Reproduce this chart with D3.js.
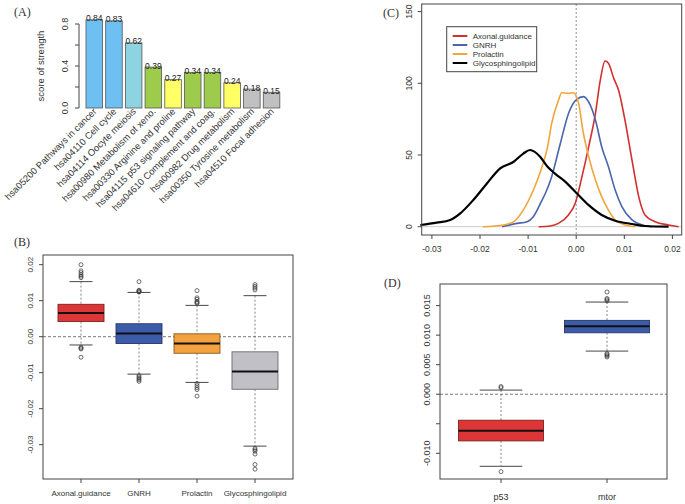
<!DOCTYPE html>
<html><head><meta charset="utf-8">
<script src="https://cdn.jsdelivr.net/npm/d3@7"></script>
<style>body{margin:0;background:#fff}svg{display:block}text{font-family:"Liberation Sans",Arial,sans-serif}</style>
</head><body><svg id="c" width="685" height="504"></svg>
<script>
// ---------- DATA ----------
const pathways = ["hsa05200 Pathways in cancer","hsa04110 Cell cycle","hsa04114 Oocyte meiosis","hsa00980 Metabolism of xeno.","hsa00330 Arginine and proline","hsa04115 p53 signaling pathway","hsa04610 Complement and coag.","hsa00982 Drug metabolism","hsa00350 Tyrosine metabolism","hsa04510 Focal adhesion"];
const strength = [0.84,0.83,0.62,0.39,0.27,0.34,0.34,0.24,0.18,0.15];
const strengthLabels = ["0.84","0.83","0.62","0.39","0.27","0.34","0.34","0.24","0.18","0.15"];
const barColors = ["#6ec0f2","#6ec0f2","#8ed3e0","#9dcb4c","#ffff66","#9dcb4c","#9dcb4c","#ffff66","#c0c0c2","#c0c0c2"];
const strengthTicks = [0,0.2,0.4,0.6,0.8];
const strengthTickLabels = ["0.0","","0.4","","0.8"];

const groupsB = ["Axonal.guidance","GNRH","Prolactin","Glycosphingolipid"];
// [lowerWhisker, Q1, median, Q3, upperWhisker]
const statsB = [
  [-0.0023,0.0042,0.0066,0.0090,0.0153],
  [-0.0104,-0.0019,0.0009,0.0036,0.0123],
  [-0.0127,-0.0046,-0.0019,0.0008,0.0087],
  [-0.0304,-0.0146,-0.0097,-0.0042,0.0114]
];
const outliersB = [
  [0.0200,0.0183,0.0178,0.0172,0.0168,0.0164,-0.0029,-0.0032,-0.0034,-0.0057],
  [0.0153,0.0129,0.0127,0.0125,0.0124,-0.0108,-0.0112,-0.0116,-0.0120,-0.0124],
  [0.0128,0.0108,0.0104,0.0098,0.0095,0.0093,-0.0130,-0.0136,-0.0142,-0.0147,-0.0165],
  [0.0145,0.0140,0.0135,0.0130,-0.0310,-0.0314,-0.0318,-0.0326,-0.0355,-0.0368]
];
const boxColorsB = ["#de3636","#3c5ba8","#f3a23f","#c0c0c6"];
const boxBordersB = ["#7a2222","#25386a","#8a5a1e","#6a6a70"];
const ticksB = [0.02,0.01,0.00,-0.01,-0.02,-0.03];
const tickLabelsB = ["0.02","0.01","0.00","-0.01","-0.02","-0.03"];

const seriesC = ["Axonal.guidance","GNRH","Prolactin","Glycosphingolipid"];
const colorsC = ["#d32f2f","#4a64ad","#f0a63a","#000000"];
const densAxonal = [[-0.0078,0],[-0.0054,0.5],[-0.0037,2.3],[-0.0016,8.2],[-0.0002,16.3],[0.0012,34.9],[0.0026,55.8],[0.0040,79],[0.0050,102],[0.0060,115.5],[0.0067,114],[0.0078,103.5],[0.0088,95.3],[0.0100,76.7],[0.0116,46.5],[0.0130,21],[0.0143,8.2],[0.0164,3.5],[0.0192,1.2],[0.0213,0]];
const densGNRH = [[-0.0154,0],[-0.0123,2.3],[-0.0102,3.5],[-0.0089,7],[-0.0071,18.6],[-0.0064,23.3],[-0.0051,34.9],[-0.0033,58],[-0.0016,79],[0.0001,88.8],[0.0015,90.7],[0.0029,84.9],[0.0040,74.4],[0.0053,55.8],[0.0067,41.8],[0.0081,25.6],[0.0095,14],[0.0116,4.7],[0.0137,1.2],[0.0157,0]];
const densProlactin = [[-0.0194,0],[-0.0151,1.2],[-0.0130,3.5],[-0.0110,11.6],[-0.0089,25.6],[-0.0071,41.8],[-0.0060,55],[-0.0051,72],[-0.0037,88],[-0.0030,93.4],[-0.0016,93],[-0.0006,93.4],[0.0005,86],[0.0015,65],[0.0026,48.8],[0.0040,32.6],[0.0053,21],[0.0067,11.6],[0.0081,4.7],[0.0102,1.2],[0.0123,0]];
const densGlyco = [[-0.0324,1.2],[-0.0290,2.8],[-0.0262,4.7],[-0.0241,9.3],[-0.0214,18.6],[-0.0186,30],[-0.0158,40.7],[-0.0130,45.3],[-0.0110,51],[-0.0096,53.5],[-0.0075,48.8],[-0.0060,42],[-0.0044,37],[-0.0023,31.4],[0.0001,23.3],[0.0026,15],[0.0053,8.2],[0.0081,4.2],[0.0116,1.9],[0.0143,0.5],[0.0192,0]];
const xTicksC = [-0.03,-0.02,-0.01,0.00,0.01,0.02];
const xTickLabelsC = ["-0.03","-0.02","-0.01","0.00","0.01","0.02"];
const yTicksC = [0,50,100,150];

const groupsD = ["p53","mtor"];
const statsD = [
  [-0.0122,-0.0079,-0.0062,-0.0044,0.0007],
  [0.0073,0.0104,0.0115,0.0125,0.0156]
];
const outliersD = [
  [0.0011,0.0013,-0.0131],
  [0.0158,0.0160,0.0162,0.0173,0.0069,0.0067,0.0065,0.0063]
];
const boxColorsD = ["#de3636","#3c5ba8"];
const boxBordersD = ["#7a2222","#25386a"];
const ticksD = [0.015,0.010,0.005,0.000,-0.005,-0.010];
const tickLabelsD = ["0.015","0.010","0.005","0.000","","-0.010"];

// ---------- DRAW ----------
const svg = d3.select("#c");
svg.append("rect").attr("width",685).attr("height",504).attr("fill","#fff");
const axisCol = "#444";

function panelLabel(t,x,y){
  svg.append("text").attr("x",x).attr("y",y).text(t)
    .style("font-family",'"Liberation Serif","DejaVu Serif",serif').style("font-size","12px").attr("fill","#333");
}

// ===== Panel A =====
panelLabel("(A)",14,16);
const xA = d3.scaleBand().domain(pathways).range([84.4,281.4]).paddingInner(0.16).paddingOuter(0.08);
const yA = d3.scaleLinear().domain([0,1]).range([108,3]);
const gA = svg.append("g");
gA.selectAll("rect.bar").data(strength).join("rect")
  .attr("x",(d,i)=>xA(pathways[i])).attr("width",xA.bandwidth())
  .attr("y",d=>yA(d)).attr("height",d=>yA(0)-yA(d))
  .attr("fill",(d,i)=>barColors[i]).attr("stroke","#555").attr("stroke-width",0.8);
gA.selectAll("text.val").data(strength).join("text")
  .attr("x",(d,i)=>xA(pathways[i])+xA.bandwidth()/2).attr("y",d=>yA(d)+1.5)
  .attr("text-anchor","middle").style("font-size","8.5px").attr("fill","#222")
  .text((d,i)=>strengthLabels[i]);
// y axis
gA.append("line").attr("x1",79).attr("x2",79).attr("y1",yA(0)).attr("y2",yA(0.8)).attr("stroke",axisCol);
strengthTicks.forEach((t,i)=>{
  gA.append("line").attr("x1",75).attr("x2",79).attr("y1",yA(t)).attr("y2",yA(t)).attr("stroke",axisCol);
  if(strengthTickLabels[i]) gA.append("text").attr("transform",`translate(68,${yA(t)}) rotate(-90)`)
    .attr("text-anchor","middle").style("font-size","9px").attr("fill","#333").text(strengthTickLabels[i]);
});
gA.append("text").attr("transform",`translate(44,${yA(0.4)}) rotate(-90)`).attr("text-anchor","middle")
  .style("font-size","9.5px").attr("fill","#333").text("score of strength");
gA.selectAll("text.cat").data(pathways).join("text")
  .attr("transform",d=>`translate(${xA(d)+xA.bandwidth()/2+3},${112}) rotate(-45)`)
  .attr("text-anchor","end").style("font-size","9.4px").attr("fill","#333").text(d=>d);

// ===== Box plot helper =====
function boxPanel(cfg){
  const g = svg.append("g");
  const {x0,x1,y0,y1,groups,stats,outliers,fills,borders,yScale,ticks,tickLabels,boxW,labelY,tickLabelX,fontSize} = cfg;
  const xS = d3.scalePoint().domain(groups).range(cfg.centers).padding(0);
  g.append("line").attr("x1",x0).attr("x2",x1).attr("y1",yScale(0)).attr("y2",yScale(0))
    .attr("stroke","#555").attr("stroke-dasharray","3,2").attr("stroke-width",0.8);
  groups.forEach((gname,i)=>{
    const cx = xS(gname), s = stats[i];
    g.append("line").attr("x1",cx).attr("x2",cx).attr("y1",yScale(s[4])).attr("y2",yScale(s[3]))
      .attr("stroke","#666").attr("stroke-dasharray","2,2").attr("stroke-width",0.8);
    g.append("line").attr("x1",cx).attr("x2",cx).attr("y1",yScale(s[1])).attr("y2",yScale(s[0]))
      .attr("stroke","#666").attr("stroke-dasharray","2,2").attr("stroke-width",0.8);
    [s[0],s[4]].forEach(v=>g.append("line").attr("x1",cx-boxW/4).attr("x2",cx+boxW/4)
      .attr("y1",yScale(v)).attr("y2",yScale(v)).attr("stroke","#333").attr("stroke-width",0.9));
    g.append("rect").attr("x",cx-boxW/2).attr("width",boxW).attr("y",yScale(s[3]))
      .attr("height",yScale(s[1])-yScale(s[3])).attr("fill",fills[i]).attr("stroke",borders[i]).attr("stroke-width",0.9);
    g.append("line").attr("x1",cx-boxW/2).attr("x2",cx+boxW/2).attr("y1",yScale(s[2])).attr("y2",yScale(s[2]))
      .attr("stroke","#111").attr("stroke-width",2);
    outliers[i].forEach(v=>g.append("circle").attr("cx",cx).attr("cy",yScale(v)).attr("r",2)
      .attr("fill","none").attr("stroke","#333").attr("stroke-width",0.7));
    g.append("line").attr("x1",cx).attr("x2",cx).attr("y1",y1).attr("y2",y1+4).attr("stroke",axisCol);
    g.append("text").attr("x",cx).attr("y",labelY).attr("text-anchor","middle").style("font-size",fontSize)
      .attr("fill","#333").text(gname);
  });
  g.append("rect").attr("x",x0).attr("y",y0).attr("width",x1-x0).attr("height",y1-y0)
    .attr("fill","none").attr("stroke",axisCol).attr("stroke-width",1);
  ticks.forEach((t,i)=>{
    g.append("line").attr("x1",x0-4).attr("x2",x0).attr("y1",yScale(t)).attr("y2",yScale(t)).attr("stroke",axisCol);
    if(tickLabels[i]) g.append("text").attr("transform",`translate(${tickLabelX},${yScale(t)}) rotate(-90)`)
      .attr("text-anchor","middle").style("font-size",fontSize).attr("fill","#333").text(tickLabels[i]);
  });
}

// ===== Panel B =====
panelLabel("(B)",14,246);
const yB = d3.scaleLinear().domain([-0.03,0.02]).range([444.7,264.7]);
boxPanel({x0:43,x1:293,y0:255,y1:479,groups:groupsB,stats:statsB,outliers:outliersB,fills:boxColorsB,borders:boxBordersB,
  yScale:yB,ticks:ticksB,tickLabels:tickLabelsB,boxW:46,centers:[81,255],labelY:496,tickLabelX:33,fontSize:"8px"});

// ===== Panel D =====
panelLabel("(D)",384,287);
const yD = d3.scaleLinear().domain([-0.010,0.015]).range([453.3,305.6]);
boxPanel({x0:440,x1:667,y0:284,y1:479,groups:groupsD,stats:statsD,outliers:outliersD,fills:boxColorsD,borders:boxBordersD,
  yScale:yD,ticks:ticksD,tickLabels:tickLabelsD,boxW:85,centers:[501,607],labelY:500,tickLabelX:430,fontSize:"9px"});

// ===== Panel C =====
panelLabel("(C)",383,17);
const xC = d3.scaleLinear().domain([-0.03,0.02]).range([431.9,672.4]);
const yC = d3.scaleLinear().domain([0,150]).range([226.7,11.6]);
const gC = svg.append("g");
const cx0=421.7, cx1=681.7, cy0=4, cy1=235;
gC.append("line").attr("x1",cx0).attr("x2",cx1).attr("y1",yC(0)).attr("y2",yC(0)).attr("stroke","#ccc").attr("stroke-width",1);
gC.append("line").attr("x1",xC(0)).attr("x2",xC(0)).attr("y1",cy0).attr("y2",cy1)
  .attr("stroke","#888").attr("stroke-dasharray","2,2").attr("stroke-width",0.9);
const dens = [densAxonal,densGNRH,densProlactin,densGlyco];
const lineC = d3.line().x(d=>xC(d[0])).y(d=>yC(d[1])).curve(d3.curveMonotoneX);
dens.forEach((ds,i)=>{
  gC.append("path").attr("d",lineC(ds)).attr("fill","none").attr("stroke",colorsC[i])
    .attr("stroke-width",i===3?2.2:1.6).attr("stroke-linejoin","round");
});
gC.append("rect").attr("x",cx0).attr("y",cy0).attr("width",cx1-cx0).attr("height",cy1-cy0)
  .attr("fill","none").attr("stroke",axisCol);
xTicksC.forEach((t,i)=>{
  gC.append("line").attr("x1",xC(t)).attr("x2",xC(t)).attr("y1",cy1).attr("y2",cy1+4).attr("stroke",axisCol);
  gC.append("text").attr("x",xC(t)).attr("y",252).attr("text-anchor","middle").style("font-size","8.5px")
    .attr("fill","#333").text(xTickLabelsC[i]);
});
yTicksC.forEach(t=>{
  gC.append("line").attr("x1",cx0-4).attr("x2",cx0).attr("y1",yC(t)).attr("y2",yC(t)).attr("stroke",axisCol);
  gC.append("text").attr("transform",`translate(412,${yC(t)}) rotate(-90)`).attr("text-anchor","middle")
    .style("font-size","8.5px").attr("fill","#333").text(t);
});
const lg = gC.append("g");
lg.append("rect").attr("x",446.7).attr("y",26.7).attr("width",90).attr("height",45).attr("fill","#fff").attr("stroke","#444");
seriesC.forEach((s,i)=>{
  const y = 36 + i*9;
  lg.append("line").attr("x1",452.7).attr("x2",467.3).attr("y1",y).attr("y2",y).attr("stroke",colorsC[i]).attr("stroke-width",2);
  lg.append("text").attr("x",472.7).attr("y",y+3).style("font-size","8px").attr("fill","#333").text(s);
});
</script></body></html>
